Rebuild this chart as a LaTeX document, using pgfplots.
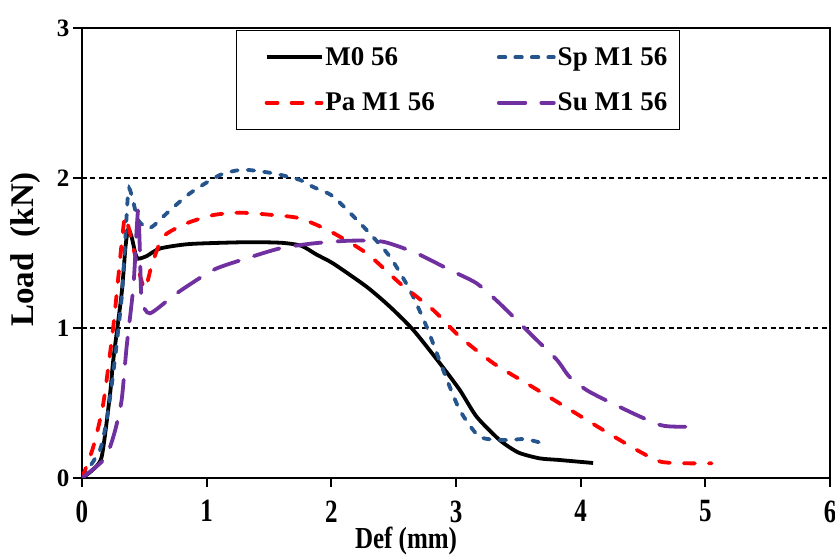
\documentclass[border=0pt]{standalone}
\usepackage{fontspec}
\setmainfont{Liberation Serif}
\usepackage{pgfplots}
\pgfplotsset{compat=1.18}
\newcommand{\st}[1]{\scalebox{1}[1.3]{#1}}
\newcommand{\sx}[1]{\scalebox{1}[1.22]{#1}}
\definecolor{spblue}{RGB}{38,84,140}
\definecolor{supurple}{RGB}{112,48,160}
\begin{document}
\begin{tikzpicture}
\begin{axis}[
 name=ax,
 scale only axis, width=748pt, height=450pt,
 xmin=0, xmax=6, ymin=0, ymax=3,
 xtick={0,1,2,3,4,5,6}, ytick={0,1,2,3},
 xticklabels={\st{0},\st{1},\st{2},\st{3},\st{4},\st{5},\st{6}},
 yticklabels={0,1,2,3},
 tick label style={font=\bfseries\fontsize{25}{30}\selectfont},
 xticklabel shift=10pt,
 xlabel={\sx{Def (mm)}},
 xlabel style={font=\bfseries\fontsize{25}{30}\selectfont, at={(rel axis cs:0.4332,-0.14)}, anchor=center},
 ylabel={Load\ \ (kN)},
 ylabel style={font=\bfseries\fontsize{33}{36}\selectfont, at={(rel axis cs:-0.0749,0.507)}, anchor=center},
 tick align=outside, tick pos=left,
 major tick length=9pt,
 tick style={black, line width=2pt},
 axis line style={black, line width=2.2pt},
 ymajorgrids, major grid style={black, dash pattern=on 5pt off 3.5pt, line width=1.3pt},
 legend columns=2,
 legend cell align=left,
 legend image code/.code={\path (0pt,0pt); \draw[#1] (18pt,0pt) -- (73pt,0pt);},
 legend style={at={(rel axis cs:0.2059,0.9956)}, anchor=north west, draw=black, line width=1.3pt, fill=white,
   inner xsep=10pt, inner ysep=15pt, row sep=22pt,
   font=\bfseries\fontsize{27}{30}\selectfont,
   /tikz/every even column/.append style={column sep=42pt}},
]
\addplot[black, line width=3.8pt, smooth, tension=0.4] coordinates {
(0,0) (0.08,0.05) (0.158,0.142) (0.225,0.56) (0.251,0.787) (0.318,1.23) (0.35,1.55) (0.372,1.66) (0.40,1.6) (0.43,1.49) (0.452,1.462) (0.52,1.48) (0.626,1.53) (0.866,1.56) (1.32,1.572) (1.6,1.568) (1.76,1.548) (1.88,1.49) (2.015,1.43) (2.283,1.275) (2.47,1.142) (2.657,0.987) (2.87,0.765) (3.03,0.587) (3.165,0.409) (3.35,0.253) (3.5,0.17) (3.67,0.131) (3.83,0.12) (4.1,0.1)
};
\addlegendentry{M0 56}
\addplot[spblue, line width=3.8pt, line cap=round, dash pattern=on 6.5pt off 10pt, smooth, tension=0.4] coordinates {
(0,0) (0.144,0.187) (0.2,0.4) (0.251,0.70) (0.318,1.2) (0.345,1.56) (0.372,1.92) (0.40,1.88) (0.45,1.72) (0.532,1.664) (0.6,1.70) (0.679,1.764) (0.866,1.898) (1.107,2.02) (1.294,2.055) (1.535,2.031) (1.748,1.987) (1.855,1.94) (2.015,1.876) (2.283,1.653) (2.47,1.475) (2.63,1.253) (2.764,1.009) (2.897,0.72) (3.03,0.453) (3.19,0.275) (3.406,0.253) (3.55,0.26) (3.68,0.235)
};
\addlegendentry{Sp M1 56}
\addplot[red, line width=3.8pt, line cap=round, dash pattern=on 11pt off 14pt, smooth, tension=0.4] coordinates {
(0,0) (0.091,0.209) (0.171,0.498) (0.251,1.009) (0.318,1.564) (0.345,1.742) (0.38,1.65) (0.45,1.40) (0.505,1.26) (0.56,1.42) (0.652,1.609) (0.84,1.698) (1.053,1.753) (1.267,1.769) (1.535,1.753) (1.748,1.731) (1.99,1.645) (2.283,1.498) (2.55,1.298) (2.817,1.12) (3.03,0.942) (3.30,0.765) (3.566,0.631) (3.83,0.498) (4.18,0.32) (4.45,0.187) (4.64,0.109) (4.85,0.098) (5.05,0.098)
};
\addlegendentry{Pa M1 56}
\addplot[supurple, line width=3.8pt, line cap=round, dash pattern=on 26.5pt off 16pt, smooth, tension=0.4] coordinates {
(0,0) (0.184,0.131) (0.26,0.30) (0.318,0.52) (0.358,0.875) (0.412,1.275) (0.438,1.65) (0.452,1.79) (0.465,1.5) (0.479,1.19) (0.545,1.098) (0.759,1.231) (1.053,1.387) (1.32,1.464) (1.588,1.531) (1.855,1.564) (2.15,1.582) (2.416,1.575) (2.684,1.498) (2.95,1.387) (3.165,1.298) (3.35,1.164) (3.62,0.942) (3.81,0.787) (3.91,0.675) (4.07,0.575) (4.42,0.431) (4.64,0.353) (4.77,0.342) (4.94,0.342)
};
\addlegendentry{Su M1 56}
\end{axis}
\pgfresetboundingbox
\useasboundingbox ([xshift=-82pt,yshift=-78pt]ax.south west) rectangle ([xshift=5pt,yshift=28pt]ax.north east);
\end{tikzpicture}
\end{document}
